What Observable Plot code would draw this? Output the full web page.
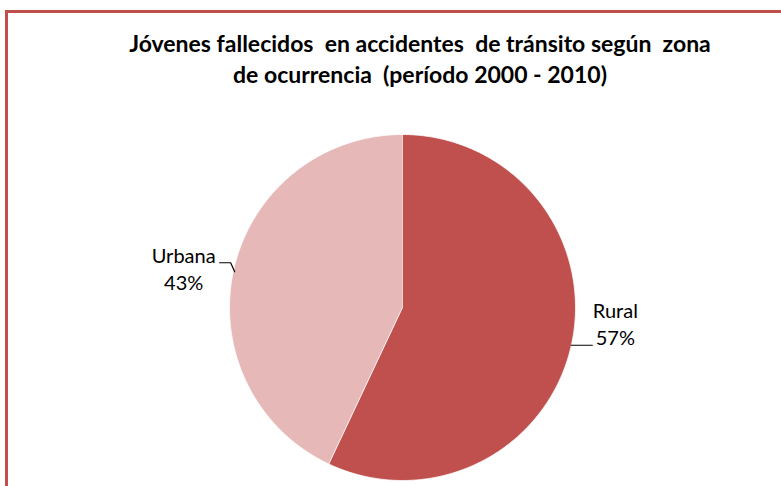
<!DOCTYPE html>
<html><head><meta charset="utf-8">
<script src="https://cdn.jsdelivr.net/npm/d3@7"></script>
<script src="https://cdn.jsdelivr.net/npm/@observablehq/plot@0.6"></script>
<style>
body{margin:0;width:781px;height:486px;overflow:hidden;background:#fff;position:relative;font-family:Lato,"Open Sans",sans-serif}
#frame{position:absolute;left:5px;top:10px;width:900px;height:600px;border:3px solid #C0504D;box-sizing:border-box}
#title{position:absolute;left:0;width:840px;top:28px;text-align:center;font-weight:bold;font-size:23px;line-height:31px;color:#000;font-family:Lato,sans-serif;white-space:pre}
#chart{position:absolute;left:0;top:100px}
</style></head>
<body>
<div id="frame"></div>
<div id="title">Jóvenes fallecidos  en accidentes  de tránsito según  zona
de ocurrencia  (período 2000 - 2010)</div>
<div id="chart"></div>
<script>
const categories = ["Rural", "Urbana"];
const values = [57, 43];
const colors = ["#C0504D", "#E6B9B8"];

// layout (pixels)
const R = 173, CX = 402, CY = 207, W = 781, H = 386;
const labelLayout = {
  Rural:  {dx: 44, dy: -22, leader: [[0,0],[9,0],[21,0]]},
  Urbana: {dx: -50, dy: -2, leader: [[1,2],[-3,-7],[-14,-7]]}
};

const rows = categories.map((c, i) => ({cat: c, value: values[i]}));
const total = d3.sum(values);
const arcs = d3.pie().sort(null).value(d => d.value)(rows);

const wedgePts = [];
for (const a of arcs) {
  wedgePts.push({cat: a.data.cat, x: 0, y: 0});
  const n = Math.max(2, Math.ceil((a.endAngle - a.startAngle) / (Math.PI / 360)));
  for (let k = 0; k <= n; k++) {
    const t = a.startAngle + (a.endAngle - a.startAngle) * k / n;
    wedgePts.push({cat: a.data.cat, x: Math.sin(t), y: Math.cos(t)});
  }
}

const labels = arcs.map(a => {
  const m = (a.startAngle + a.endAngle) / 2;
  const L = labelLayout[a.data.cat];
  const ex = Math.sin(m), ey = Math.cos(m);
  return {
    cat: a.data.cat,
    text: a.data.cat + "\n" + Math.round(a.data.value / total * 100) + "%",
    x: ex + L.dx / R, y: ey - L.dy / R,
    leader: L.leader.map(([px, py]) => ({cat: a.data.cat, x: ex + px / R, y: ey - py / R}))
  };
});
const leaders = labels.flatMap(l => l.leader);

const chart = Plot.plot({
  width: W, height: H,
  marginLeft: CX - R, marginRight: W - CX - R,
  marginTop: CY - R, marginBottom: H - CY - R,
  x: {domain: [-1, 1], axis: null},
  y: {domain: [-1, 1], axis: null},
  color: {domain: categories, range: colors},
  style: {background: "transparent"},
  marks: [
    Plot.line(wedgePts, {x: "x", y: "y", z: "cat", fill: "cat", stroke: "white", strokeWidth: 0.8, curve: "linear"}),
    Plot.line(leaders, {x: "x", y: "y", z: "cat", stroke: "#000", strokeWidth: 1.2}),
    Plot.text(labels, {x: "x", y: "y", text: "text", fontSize: 20, lineHeight: 1.35, fill: "#000", fontFamily: "Lato, sans-serif", textAnchor: "middle", lineAnchor: "middle"})
  ]
});
document.getElementById("chart").appendChild(chart);
</script>
</body></html>
